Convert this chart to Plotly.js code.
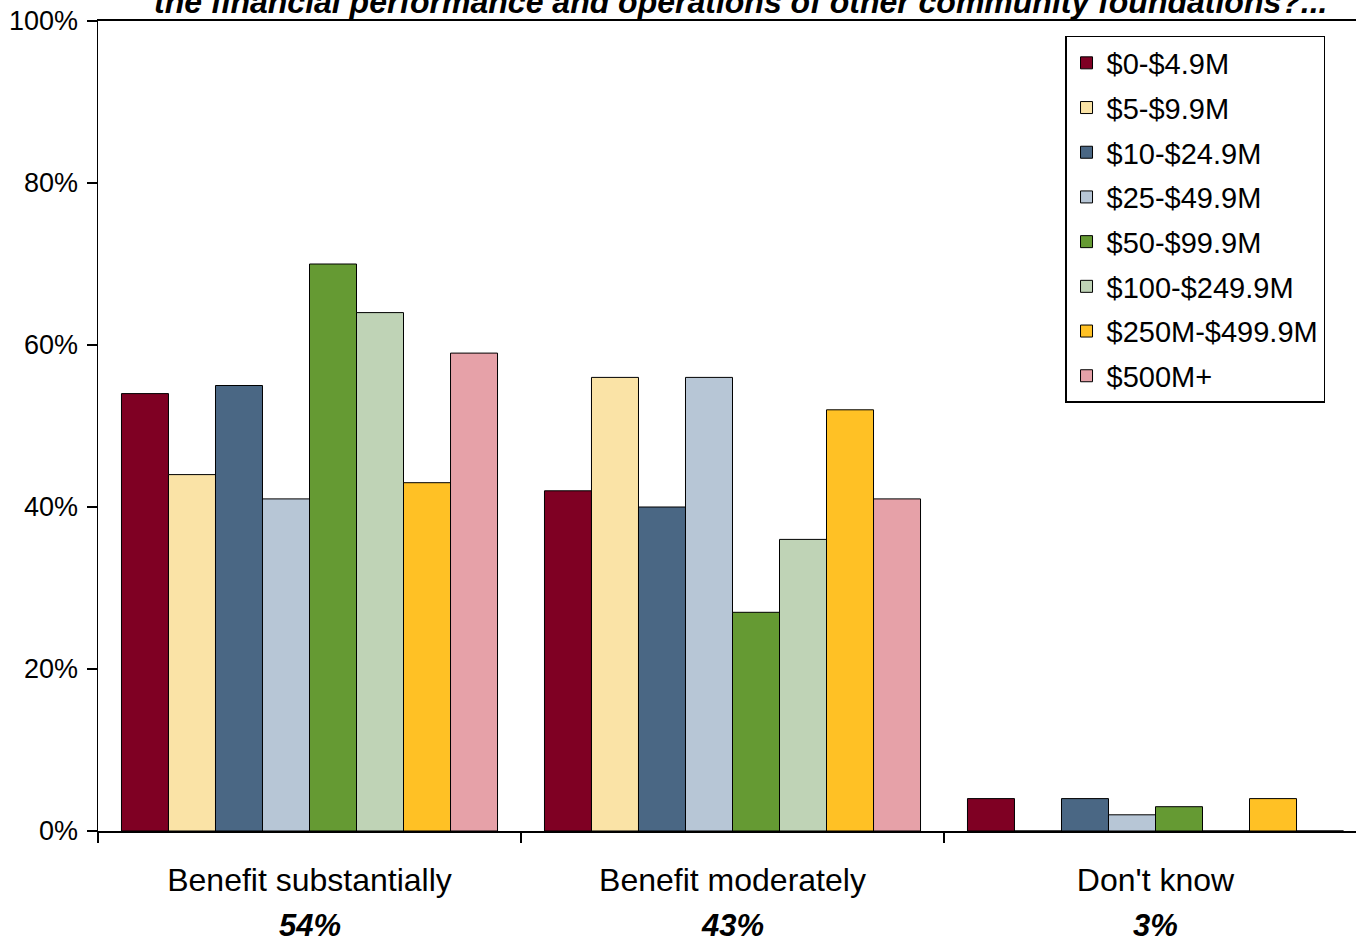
<!DOCTYPE html>
<html>
<head>
<meta charset="utf-8">
<script src="https://cdn.plot.ly/plotly-3.0.1.min.js"></script>
<style>html,body{margin:0;padding:0;background:#fff;}#chart{width:1356px;height:943px;}</style>
</head>
<body>
<div id="chart"></div>
<script>
const categories = ["Benefit substantially", "Benefit moderately", "Don't know"];
const totals = ["54%", "43%", "3%"];
const seriesNames = ["$0-$4.9M", "$5-$9.9M", "$10-$24.9M", "$25-$49.9M", "$50-$99.9M", "$100-$249.9M", "$250M-$499.9M", "$500M+"];
const s0to4_9 = [54, 42, 4];
const s5to9_9 = [44, 56, 0];
const s10to24_9 = [55, 40, 4];
const s25to49_9 = [41, 56, 2];
const s50to99_9 = [70, 27, 3];
const s100to249_9 = [64, 36, 0];
const s250to499_9 = [43, 52, 4];
const s500plus = [59, 41, 0];
const seriesValues = [s0to4_9, s5to9_9, s10to24_9, s25to49_9, s50to99_9, s100to249_9, s250to499_9, s500plus];
const colors = ["#7F0023", "#FAE3A6", "#4A6784", "#B7C6D6", "#659A33", "#BFD3B6", "#FFC125", "#E6A1A8"];
const titleText = "the financial performance and operations of other community foundations?...";

const FONT = "Liberation Sans, Arial, Helvetica, sans-serif";

const traces = seriesNames.map((name, i) => ({
  type: "bar",
  name: name,
  x: categories,
  y: seriesValues[i],
  legendgroup: "g" + i,
  marker: {color: colors[i], line: {color: "#000", width: 1}},
  hoverinfo: "none"
}));

const annotations = categories.map((c, i) => ({
  xref: "x", yref: "paper", x: c, y: -0.117,
  text: "<b><i>" + totals[i] + "</i></b>",
  showarrow: false, yanchor: "middle", xanchor: "center",
  font: {family: FONT, size: 31, color: "#000"}
}));
annotations.push({
  xref: "paper", yref: "paper", x: 0.511, y: 0.999,
  text: "<b><i>" + titleText + "</i></b>",
  showarrow: false, yanchor: "bottom", xanchor: "center",
  font: {family: FONT, size: 32, color: "#000"}
});

const layout = {
  width: 1356, height: 943,
  margin: {l: 98, r: 0, t: 21, b: 112},
  paper_bgcolor: "#fff", plot_bgcolor: "#fff",
  barmode: "group",
  bargap: 0.111, bargroupgap: 0,
  showlegend: true,
  font: {family: FONT, color: "#000"},
  xaxis: {
    type: "category",
    range: [-0.5, 2.474],
    showline: true, linecolor: "#000", linewidth: 2, mirror: true,
    ticks: "outside", tickson: "boundaries", ticklen: 10, tickwidth: 1.5, tickcolor: "#000",
    ticklabelstandoff: 20,
    tickfont: {family: FONT, size: 32, color: "#000"},
    showgrid: false, zeroline: false
  },
  yaxis: {
    range: [0, 100],
    tickvals: [0, 20, 40, 60, 80, 100],
    ticktext: ["0%", "20%", "40%", "60%", "80%", "100%"],
    showline: true, linecolor: "#000", linewidth: 1.5,
    ticks: "outside", ticklen: 10, tickwidth: 1.5, tickcolor: "#000",
    ticklabelstandoff: 3,
    tickfont: {family: FONT, size: 27, color: "#000"},
    showgrid: false, zeroline: false
  },
  legend: {
    x: 0.7687, y: 0.9815, xanchor: "left", yanchor: "top",
    bordercolor: "#000", borderwidth: 1.5, bgcolor: "#fff",
    font: {family: FONT, size: 29, color: "#000"},
    tracegroupgap: 4,
    traceorder: "grouped"
  },
  annotations: annotations
};

Plotly.newPlot("chart", traces, layout, {staticPlot: true, displayModeBar: false});
</script>
</body>
</html>
